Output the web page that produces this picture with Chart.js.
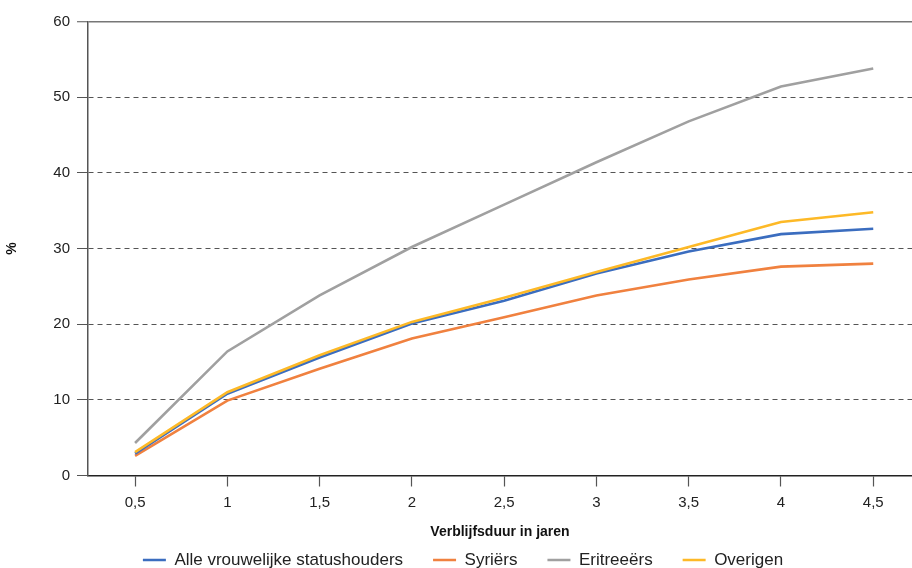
<!DOCTYPE html>
<html>
<head>
<meta charset="utf-8">
<script src="https://cdn.jsdelivr.net/npm/chart.js@4/dist/chart.umd.min.js"></script>
<style>
  html, body { margin: 0; padding: 0; background: #fff; }
  #wrap { width: 912px; height: 568px; position: relative; }
</style>
</head>
<body>
<div id="wrap"><canvas id="chart"></canvas></div>
<script>
const years = [0.5, 1, 1.5, 2, 2.5, 3, 3.5, 4, 4.5];
const alleVrouwen = [2.9, 10.8, 15.6, 20.1, 23.1, 26.7, 29.6, 31.9, 32.6];
const syriers = [2.6, 9.9, 14.1, 18.1, 20.9, 23.8, 25.9, 27.6, 28.0];
const eritreeers = [4.3, 16.4, 23.8, 30.2, 35.8, 41.4, 46.8, 51.4, 53.8];
const overigen = [3.1, 11.0, 15.9, 20.3, 23.5, 26.9, 30.2, 33.5, 34.8];
const yTicks = [0, 10, 20, 30, 40, 50, 60];

const FONT = "'Liberation Sans', Arial, sans-serif";
const toPoints = (vals) => vals.map((v, i) => ({ x: years[i], y: v }));
const fmt = (v) => String(v).replace(".", ",");

function line(label, vals, color, order) {
  return {
    label,
    data: toPoints(vals),
    borderColor: color,
    backgroundColor: color,
    borderWidth: 2.6,
    pointRadius: 0,
    tension: 0,
    order,
  };
}

new Chart(document.getElementById("chart"), {
  type: "line",
  data: {
    datasets: [
      line("Alle vrouwelijke statushouders", alleVrouwen, "#3b6dbf", 1),
      line("Syriërs", syriers, "#f0813f", 2),
      line("Eritreeërs", eritreeers, "#a0a0a0", 3),
      line("Overigen", overigen, "#fdb927", 0),
    ],
  },
  options: {
    responsive: true,
    maintainAspectRatio: false,
    animation: false,
    // left padding only nudges the centred legend; the y axis width makes up for it
    layout: { padding: { top: 21.5, right: 0, bottom: -10.5, left: 14 } },
    plugins: {
      tooltip: { enabled: false },
      legend: {
        position: "bottom",
        labels: {
          sort: (a, b) => a.datasetIndex - b.datasetIndex,
          usePointStyle: true,
          pointStyle: "line",
          pointStyleWidth: 23,
          boxHeight: 3,
          padding: 30,
          color: "#222",
          font: { family: FONT, size: 17 },
        },
      },
    },
    scales: {
      x: {
        type: "linear",
        min: 0.245,
        max: 4.71,
        afterBuildTicks: (axis) => { axis.ticks = years.map((v) => ({ value: v })); },
        afterFit: (axis) => { axis.height = 46; },
        grid: {
          drawOnChartArea: false,
          drawTicks: true,
          tickLength: 11,
          tickColor: "#555",
          tickWidth: 1.2,
        },
        border: { display: true, color: "#222", width: 1.5 },
        ticks: {
          padding: 7,
          color: "#222",
          font: { family: FONT, size: 15 },
          callback: (v) => fmt(v),
        },
        title: {
          display: true,
          text: "Verblijfsduur in jaren",
          color: "#111",
          font: { family: FONT, size: 14, weight: "bold" },
          padding: { top: 0, bottom: -19.4 },
        },
      },
      y: {
        min: 0,
        max: 60,
        afterBuildTicks: (axis) => { axis.ticks = yTicks.map((v) => ({ value: v })); },
        afterFit: (axis) => { axis.width = 74; },
        grid: {
          color: (ctx) => (ctx.tick && ctx.tick.value === 0 ? "rgba(0,0,0,0)" : ctx.tick && ctx.tick.value === 60 ? "#777" : "#555"),
          lineWidth: (ctx) => (ctx.tick && ctx.tick.value === 60 ? 1.5 : 1),
          tickLength: 11,
          tickColor: "#555",
          tickWidth: 1,
        },
        border: {
          display: true,
          color: "#555",
          width: 1.5,
          dash: (ctx) => (ctx.tick && ctx.tick.value === 60 ? [] : [5, 4]),
        },
        ticks: {
          padding: 7,
          color: "#222",
          font: { family: FONT, size: 15 },
        },
        title: {
          display: true,
          text: "%",
          color: "#111",
          font: { family: FONT, size: 14, weight: "bold" },
          padding: { top: -10.4, bottom: 0 },
        },
      },
    },
  },
});
</script>
</body>
</html>
